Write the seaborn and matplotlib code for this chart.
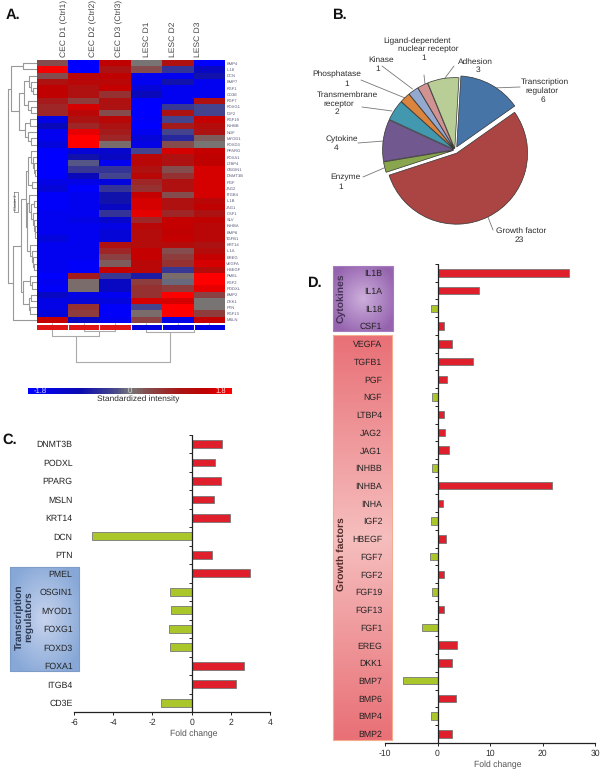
import numpy as np
import pandas as pd
import matplotlib
matplotlib.use("Agg")
import matplotlib.pyplot as plt
from matplotlib.colors import LinearSegmentedColormap
import seaborn as sns

# Heatmap data
heat_cols = ["CEC D1 (Ctrl1)", "CEC D2 (Ctrl2)", "CEC D3 (Ctrl3)", "LESC D1", "LESC D2", "LESC D3"]
heat_genes = ["BMP4", "IL18", "DCN", "BMP7", "FGF1", "CD3E", "FGF7", "FOXG1", "IGF2", "FGF19", "INHBB", "NGF",
              "MYOD1", "FOXD3", "PPARG", "FOXA1", "LTBP4", "OSGIN1", "DNMT3B", "PGF", "JAG2", "ITGB4", "IL1B",
              "JAG1", "CSF1", "SLV", "INHBA", "BMP6", "TGFB1", "KRT14", "IL1A", "EREG", "VEGFA", "HBEGF", "PMEL",
              "FGF2", "PODXL", "BMP2", "DKK1", "PTN", "FGF13", "MSLN"]
heat_values = [
    [0.3, -1.8, 1.3, 0.05, 1.0, -1.8],
    [1.7, -1.8, 0.9, 0.3, -0.5, -1.1],
    [0.3, 1.2, 1.3, -1.6, -1.6, -0.8],
    [1.0, 1.2, 1.2, -1.6, -0.8, -1.6],
    [1.3, 1.0, 1.4, -1.3, -1.6, -1.6],
    [1.3, 1.0, 0.6, -1.0, -1.6, -1.6],
    [0.8, 0.5, 1.0, -1.8, -1.6, 1.0],
    [0.7, 1.5, 0.9, -1.8, -0.4, -0.3],
    [0.7, 1.2, 0.3, -1.8, 0.9, -0.3],
    [-1.5, 0.9, 1.2, -1.7, -0.3, 1.4],
    [-1.0, 0.7, 0.9, -1.8, 0.8, 1.1],
    [-1.6, 1.6, 0.8, -1.6, -0.3, 0.9],
    [-1.6, 1.8, 0.7, -1.3, -0.6, 0.2],
    [-1.4, 1.8, 0.1, -1.5, 0.3, 0.05],
    [-1.8, -1.3, -1.2, -0.3, 1.5, 1.4],
    [-1.8, -0.8, -1.1, 1.2, 1.0, 1.3],
    [-1.8, -0.2, -1.6, 1.2, 1.0, 1.3],
    [-1.8, -0.4, -0.5, 1.0, 0.3, 1.5],
    [-1.8, -1.0, -0.3, 1.2, 0.6, 1.5],
    [-1.5, -1.5, -1.4, 0.7, 1.0, 1.5],
    [-1.3, -1.8, -0.5, 0.6, 1.0, 1.5],
    [-1.7, -1.6, -0.8, 1.4, 0.3, 1.5],
    [-1.7, -1.6, -0.8, 1.5, 1.0, 1.2],
    [-1.7, -1.6, -1.1, 1.5, 1.0, 1.3],
    [-1.6, -1.6, -0.5, 1.6, 0.7, 0.9],
    [-1.6, -1.5, -1.2, 0.7, 1.4, 1.3],
    [-1.6, -1.6, -1.5, 1.2, 1.4, 1.2],
    [-1.6, -1.6, -1.3, 1.1, 1.3, 1.2],
    [-1.4, -1.6, -1.3, 1.1, 1.4, 1.2],
    [-1.6, -1.6, 1.0, 1.1, 1.1, 0.9],
    [-1.6, -1.6, 0.7, 1.4, 0.3, 1.1],
    [-1.6, -1.6, 0.4, 1.4, 0.5, 1.4],
    [-1.6, -1.7, 0.2, 1.2, 0.6, 1.5],
    [-1.6, -1.7, 1.4, 1.2, -0.4, 1.1],
    [-1.8, 0.8, -0.4, -0.7, 0.1, 1.8],
    [-1.6, 0.1, -1.1, 0.5, -0.1, 1.8],
    [-1.7, 0.1, -1.1, 0.6, 0.5, 1.6],
    [-1.1, -1.5, -1.6, 0.6, 1.8, 0.4],
    [-1.5, -1.3, -1.4, 1.5, 1.5, 0.05],
    [-1.5, 0.6, -1.7, -0.3, 1.8, 0.05],
    [-1.4, 0.5, -1.7, 0.1, 1.8, 0.5],
    [1.4, -1.1, -1.6, 0.4, -1.5, 1.4],
]
col_groups = [[1, 1, 1, -1, -1, -1]]

# Dendrograms as nested (height, left, right), leaves are row or column numbers
rows_top = (26, (14, 0, 1), (18, (13, (8, 2, (6, 3, (4, 4, 5))), (9, 6, (6, 7, 8))),
                             (12, (7, 9, 10), (9, 11, (6, 12, 13)))))
rows_a = (9, (6, 14, (4, 15, (3, 16, (2, 17, 18)))), (5, 19, 20))
rows_b = (8, 21, (6, (3, 22, 23), (4, 24, (3, 25, (2, 26, (1.5, 27, 28))))))
rows_c = (7, 29, (5, 30, (4, 31, (3, 32, 33))))
rows_d = (14, (7, 34, (5, 35, 36)), (8, (6, 37, 38), (7, 39, 40)))
rows_bottom = (24, (16, (11, rows_a, (10, rows_b, rows_c)), rows_d), 41)
row_tree = (29, rows_top, rows_bottom)
col_tree = (39, (13, 0, (8, 1, 2)), (9, 3, (3, 4, 5)))

# Pie data
pie_names = ["Transcription regulator", "Growth factor", "Enzyme", "Cytokine", "Transmembrane receptor",
             "Phosphatase", "Kinase", "Ligand-dependent nuclear receptor", "Adhesion"]
pie_counts = [6, 23, 1, 4, 2, 1, 1, 1, 3]
pie_colors = ["#4674a6", "#aa4543", "#89a54e", "#71588f", "#4298af", "#db843d", "#93a9cf", "#d19392", "#b9cd96"]

# Bars, panel C
c_genes = ["DNMT3B", "PODXL", "PPARG", "MSLN", "KRT14", "DCN", "PTN", "PMEL", "OSGIN1", "MYOD1", "FOXG1",
           "FOXD3", "FOXA1", "ITGB4", "CD3E"]
c_fold = [1.55, 1.17, 1.48, 1.14, 1.94, -5.07, 1.02, 2.96, -1.12, -1.07, -1.17, -1.09, 2.65, 2.28, -1.56]

# Bars, panel D
d_genes = ["IL1B", "IL1A", "IL18", "CSF1", "VEGFA", "TGFB1", "PGF", "NGF", "LTBP4", "JAG2", "JAG1", "INHBB",
           "INHBA", "INHA", "IGF2", "HBEGF", "FGF7", "FGF2", "FGF19", "FGF13", "FGF1", "EREG", "DKK1", "BMP7",
           "BMP6", "BMP4", "BMP2"]
d_fold = [25, 7.9, -1.2, 1.3, 2.8, 6.8, 1.9, -1.1, 1.3, 1.45, 2.1, -1.1, 21.8, 1.1, -1.15, 1.7, -1.5, 1.3,
          -1.0, 1.3, -3.0, 3.8, 2.85, -6.5, 3.5, -1.15, 2.7]

sns.set_theme(style="white")
plt.rcParams["font.family"] = ["Liberation Sans", "DejaVu Sans"]
plt.rcParams["axes.unicode_minus"] = False
plt.rcParams["text.hinting"] = "no_hinting"

W, H = 600, 769
fig = plt.figure(figsize=(W / 100, H / 100), dpi=100)
TXT = "#2b2b2b"


def px_axes(x0, y0, x1, y1, z=2):
    a = fig.add_axes([x0 / W, 1 - y1 / H, (x1 - x0) / W, (y1 - y0) / H], zorder=z)
    a.patch.set_alpha(0)
    return a


def draw_tree(a, node, vertical=False):
    # returns leaf position and height of the node
    if not isinstance(node, tuple):
        return node + 0.5, 0
    h, left, right = node
    p1, h1 = draw_tree(a, left, vertical)
    p2, h2 = draw_tree(a, right, vertical)
    hs, ps = [h1, h, h, h2], [p1, p1, p2, p2]
    if vertical:
        a.plot(ps, hs, color="#aaaaaa", lw=0.8, solid_capstyle="butt")
    else:
        a.plot(hs, ps, color="#999999", lw=0.8, solid_capstyle="butt")
    return (p1 + p2) / 2, h


# full figure overlay in pixels, for boxes and loose text
page = fig.add_axes([0, 0, 1, 1], zorder=0)


def gradient_box(x0, y0, x1, y1, stops, edge, radial=False):
    stops = np.array(stops) / 255
    if radial:
        yy, xx = np.mgrid[-1:1:60j, -1:1:60j]
        t = np.clip(np.sqrt(xx ** 2 + yy ** 2) / 1.2, 0, 1)
    else:
        t = np.abs(np.linspace(-1, 1, 200))[:, None] * np.ones((200, 2))
    rgb = stops[0] + (stops[1] - stops[0]) * t[..., None]
    page.imshow(rgb, extent=(x0, x1, y1, y0), aspect="auto", interpolation="bilinear")
    page.plot([x0, x1, x1, x0, x0], [y0, y0, y1, y1, y0], color=edge, lw=0.8)


gradient_box(10, 567, 79, 671, [(200, 212, 238), (135, 168, 215)], "#7f9cc9", radial=True)
gradient_box(333, 266, 393, 331, [(205, 175, 220), (150, 100, 175)], "#a57cbd", radial=True)
gradient_box(333, 335, 392, 740, [(246, 190, 190), (232, 112, 118)], "#f5ad90")
page.set_xlim(0, W)
page.set_ylim(H, 0)
page.axis("off")

for txt, x, y in [("A.", 6, 15), ("B.", 332, 15), ("C.", 2, 440), ("D.", 307, 283)]:
    page.text(x, y, txt, fontsize=10.5, fontweight="bold", color="#111111", va="center")

page.text(24, 617, "Transcription\nregulators", rotation=90, fontsize=7.5, fontweight="bold", color="#2b3a55",
          ha="center", va="center", linespacing=0.95)
page.text(341, 298, "Cytokines", rotation=90, fontsize=7.5, fontweight="bold", color="#443355", ha="center", va="center")
page.text(341, 554, "Growth factors", rotation=90, fontsize=7.5, fontweight="bold", color="#552a2a", ha="center", va="center")

# Panel A
cmap = LinearSegmentedColormap.from_list("bgr", [
    (0.0, "#0000ff"), (0.25, "#0a0ab0"), (0.42, "#46468c"), (0.5, "#787878"),
    (0.58, "#824f4f"), (0.75, "#aa1414"), (0.88, "#c00000"), (1.0, "#ff0000")], N=64)
heat_df = pd.DataFrame(heat_values, index=heat_genes, columns=heat_cols)
ax_heat = px_axes(36.5, 60, 225, 323)
ax_bar = px_axes(20, 388, 240.5, 394)
sns.heatmap(heat_df, ax=ax_heat, cmap=cmap, vmin=-1.8, vmax=1.8, xticklabels=False, yticklabels=True,
            cbar_ax=ax_bar, cbar_kws={"orientation": "horizontal", "ticks": []})
ax_heat.set_ylabel("")
ax_heat.yaxis.tick_right()
ax_heat.tick_params(axis="y", length=0, pad=1, labelsize=3, labelcolor="#555577", labelrotation=0)
ax_bar.collections[0].set_edgecolor("face")
for s in ax_bar.spines.values():
    s.set_visible(False)
ax_bar.set_xlim(-1.95, 1.95)
ax_bar.axvline(-1.84, color="white", lw=0.8)
ax_bar.axvline(1.84, color="white", lw=0.8)
ax_bar.text(-1.7, 0.5, "-1.8", color="#ddddff", fontsize=5.5, va="center", ha="left", transform=ax_bar.get_xaxis_transform())
ax_bar.text(0, 0.5, "0", color="#dddddd", fontsize=5.5, va="center", ha="center", transform=ax_bar.get_xaxis_transform())
ax_bar.text(1.7, 0.5, "1.8", color="#ffdddd", fontsize=5.5, va="center", ha="right", transform=ax_bar.get_xaxis_transform())
page.text(138, 399, "Standardized intensity", fontsize=6, color=TXT, ha="center", va="center")

for name, x in zip(heat_cols, [64, 93, 119, 147, 173, 198]):
    page.text(x, 56.7, name, rotation=90, fontsize=6.1, color="#444444", ha="center", va="bottom")

ax_rows = px_axes(6.5, 60, 36.5, 323)
draw_tree(ax_rows, row_tree)
ax_rows.set_xlim(30, 0)
ax_rows.set_ylim(len(heat_genes), 0)
ax_rows.axis("off")

ax_cols = px_axes(36.5, 323, 225, 368)
draw_tree(ax_cols, col_tree, vertical=True)
ax_cols.set_xlim(0, len(heat_cols))
ax_cols.set_ylim(45, 0)
ax_cols.axis("off")

ax_grp = px_axes(36.5, 325, 225, 330, z=3)
sns.heatmap(col_groups, ax=ax_grp, cmap=LinearSegmentedColormap.from_list("rb", ["#0000e0", "#e01515"]), cbar=False,
            xticklabels=False, yticklabels=False)
for i in range(1, len(heat_cols)):
    ax_grp.axvline(i, color="white", lw=0.8)

page.plot([13.5, 18, 18, 13.5, 13.5], [192, 192, 212, 212, 192], color="#777777", lw=0.5)
page.text(15.8, 202, "Cluster 2", rotation=90, fontsize=2.8, color="#444444", ha="center", va="center")

# Panel B
ax_pie = px_axes(455 - 92.3, 150 - 92.3, 455 + 92.3, 150 + 92.3)
ax_pie.pie(pie_counts, colors=pie_colors, startangle=86.6, counterclock=False,
           explode=[0.05, 0.05, 0.02, 0.02, 0.02, 0.02, 0.02, 0.02, 0.02],
           wedgeprops={"edgecolor": "#333333", "linewidth": 0.5})
ax_pie.set_xlim(-1.3, 1.3)
ax_pie.set_ylim(-1.3, 1.3)

pie_labels = [
    ("Ligand-dependent", 417, 41), ("nuclear receptor", 428, 49.5), ("1", 424, 58),
    ("Kinase", 381, 60), ("1", 378, 69),
    ("Phosphatase", 337, 74), ("1", 347, 84),
    ("Transmembrane", 347, 95), ("receptor", 339, 103.5), ("2", 337, 112),
    ("Cytokine", 342, 139), ("4", 336, 147.5),
    ("Enzyme", 345, 177), ("1", 341, 187),
    ("Adhesion", 475, 61.5), ("3", 478, 70),
    ("Transcription", 545, 82.5), ("regulator", 542, 91), ("6", 543, 99.5),
    ("Growth factor", 521, 231), ("23", 519, 240),
]
for txt, x, y in pie_labels:
    page.text(x, y, txt, fontsize=6, color=TXT, ha="center", va="center")

leaders = [((424, 75), (425, 84)), ((382, 66), (412.5, 89)), ((361, 80), (405, 98)), ((362, 107), (392, 111)),
           ((358, 143), (384, 141)), ((363, 177), (384, 168)), ((454, 66), (445, 78)), ((520, 87), (493, 88)),
           ((493, 230), (488, 217))]
for p, q in leaders:
    page.plot([p[0], q[0]], [p[1], q[1]], color="#777777", lw=0.6)


# Panels C and D
def fold_bars(a, genes, fold, xlim, xticks, label_x, pad):
    df = pd.DataFrame({"gene": genes, "fold": fold})
    df["dir"] = np.where(df["fold"] > 0, "up", "down")
    sns.barplot(data=df, x="fold", y="gene", hue="dir", palette={"up": "#e01f2d", "down": "#a9c62b"}, dodge=False,
                width=0.42, orient="h", legend=False, edgecolor="#777777", linewidth=0.6, saturation=1, ax=a)
    a.set_xticks(xticks)
    a.set_ylabel("")
    a.set_xlabel("Fold change", fontsize=6.2, color="#555555", x=label_x, labelpad=2)
    sns.despine(ax=a, left=True)
    a.spines["bottom"].set_color("#222222")
    a.spines["bottom"].set_linewidth(0.9)
    a.tick_params(axis="x", bottom=True, length=2.5, width=0.7, color="#222222", labelsize=6.2, labelcolor=TXT, pad=2)
    a.tick_params(axis="y", left=False, length=0, labelsize=6.3, labelcolor="#222222", pad=pad)
    a.axvline(0, color="#222222", lw=0.9, zorder=5)
    a.plot(np.zeros(len(genes) + 1), np.arange(len(genes) + 1) - 0.5, ls="none", marker=0, ms=2, mew=0.7,
           color="#222222", clip_on=False, zorder=5)
    a.set_xlim(*xlim)
    a.set_ylim(len(genes) - 0.5, -0.5)


ax_c = px_axes(74, 434.7, 270, 712)
fold_bars(ax_c, c_genes, c_fold, (-6, 4), [-6, -4, -2, 0, 2, 4], 0.61, 1)
ax_d = px_axes(385, 264, 595, 742.7)
fold_bars(ax_d, d_genes, d_fold, (-10, 30), [-10, 0, 10, 20, 30], 0.537, 2)

fig.savefig("out.png", dpi=100)
